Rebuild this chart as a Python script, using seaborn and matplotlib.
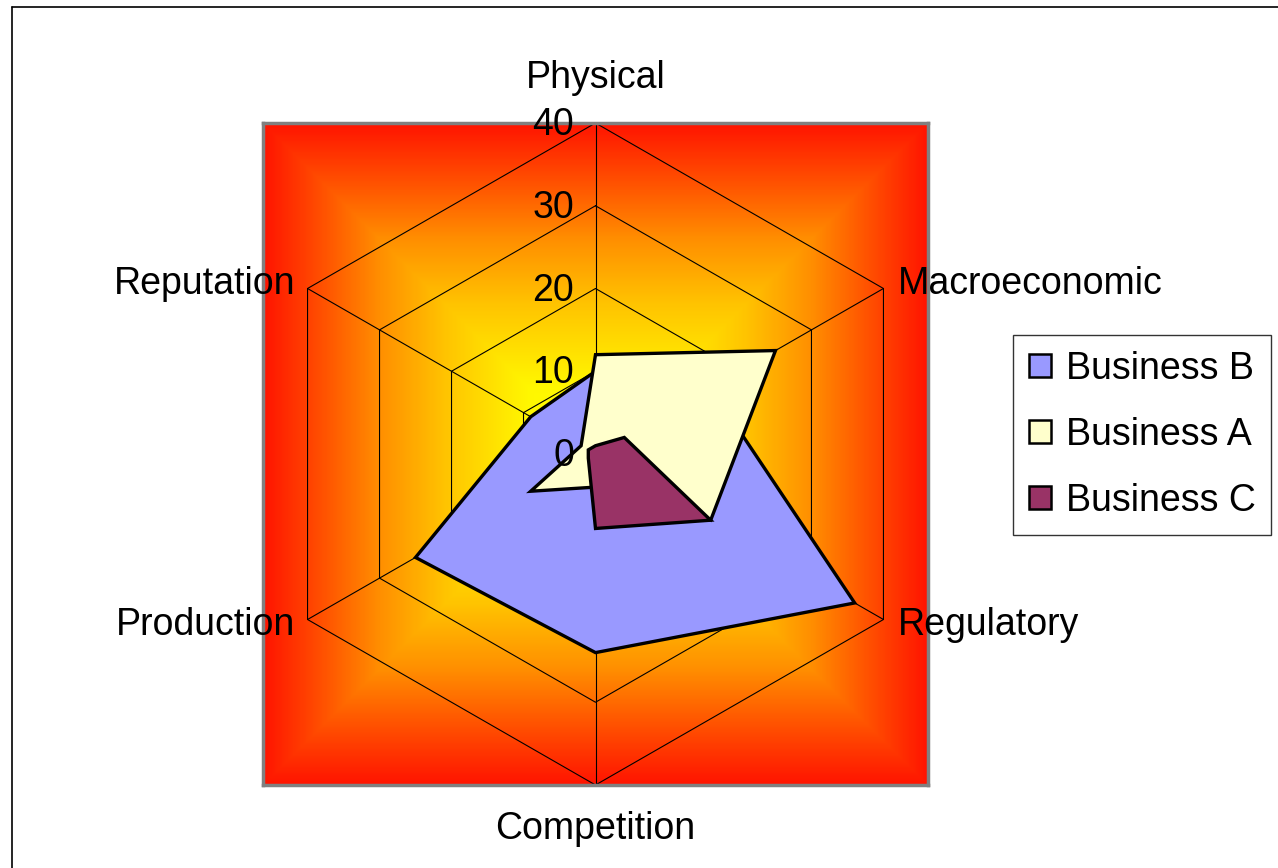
import numpy as np
import matplotlib
matplotlib.use("Agg")
import matplotlib.pyplot as plt
from matplotlib.colors import LinearSegmentedColormap
from matplotlib.patches import Patch
from matplotlib.lines import Line2D
import seaborn as sns

categories = ["Physical", "Macroeconomic", "Regulatory", "Competition", "Production", "Reputation"]
business_b = [10, 16, 36, 24, 25, 9]
business_a = [12, 25, 16, 4, 9, 2]
business_c = [1, 4, 16, 9, 1, 1]
series_names = ["Business B", "Business A", "Business C"]
series_values = [business_b, business_a, business_c]
series_colors = ["#9999FF", "#FFFFCC", "#993366"]
ticks = [0, 10, 20, 30, 40]
rmax = 40

sns.set_theme(style="white")
plt.rcParams['font.family'] = ['Liberation Sans', 'DejaVu Sans']
plt.rcParams['text.color'] = 'black'

FS = 27

fig = plt.figure(figsize=(12.78, 8.68), dpi=100)
ax = fig.add_axes([263/1278, 83/868, 665/1278, 662/868])
ax.set_xlim(-rmax, rmax)
ax.set_ylim(-rmax, rmax)
ax.set_aspect('auto')
ax.set_xticks([]); ax.set_yticks([])
for s in ax.spines.values():
    s.set_color('#808080'); s.set_linewidth(2.5)

# rectangular "from centre" gradient background
cmap = LinearSegmentedColormap.from_list("grad", [
    (0.0, (1.0, 1.0, 0.0)),
    (0.2, (1.0, 0.97, 0.0)),
    (0.45, (1.0, 0.77, 0.0)),
    (0.65, (1.0, 0.56, 0.0)),
    (0.85, (1.0, 0.28, 0.0)),
    (1.0, (1.0, 0.08, 0.0)),
])
g = np.linspace(-1, 1, 600)
gx, gy = np.meshgrid(g, g)
d = np.maximum(np.abs(gx), np.abs(gy))
ax.imshow(d, cmap=cmap, vmin=0, vmax=1, extent=(-rmax, rmax, -rmax, rmax),
          origin='lower', aspect='auto', zorder=0, interpolation='bilinear')

n = len(categories)
angles = np.pi/2 - np.arange(n) * 2*np.pi/n
cosA, sinA = np.cos(angles), np.sin(angles)

# hexagonal grid and spokes
for t in ticks[1:]:
    ax.plot(np.append(t*cosA, t*cosA[0]), np.append(t*sinA, t*sinA[0]),
            color='black', lw=0.8, zorder=1)
for i in range(n):
    ax.plot([0, rmax*cosA[i]], [0, rmax*sinA[i]], color='black', lw=0.8, zorder=1)

# series polygons
for name, vals, col in zip(series_names, series_values, series_colors):
    v = np.array(vals, dtype=float)
    ax.fill(v*cosA, v*sinA, facecolor=col, edgecolor='black', lw=2.4,
            joinstyle='miter', zorder=2)
ax.set_xlim(-rmax, rmax); ax.set_ylim(-rmax, rmax)

# radial tick labels
for t in ticks:
    ax.text(-2.6, t - 0.25, str(t), ha='right', va='center', fontsize=FS,
            color='black', zorder=4)

# category labels
for i, c in enumerate(categories):
    x, y = rmax*cosA[i], rmax*sinA[i]
    if abs(cosA[i]) < 1e-6:
        ax.text(0, y + (5.4 if y > 0 else -5.3), c, ha='center', va='center',
                fontsize=FS, color='black')
    elif cosA[i] > 0:
        ax.text(x + 1.7, y + (0.55 if y > 0 else -0.65), c, ha='left', va='center',
                fontsize=FS, color='black')
    else:
        ax.text(x - 1.5, y + (0.55 if y > 0 else -0.65), c, ha='right', va='center',
                fontsize=FS, color='black')

handles = [Patch(facecolor=col, edgecolor='black', lw=1.8) for col in series_colors]
leg = fig.legend(handles, series_names, loc='upper left',
                 bbox_to_anchor=(1013/1278, 1-335/868), fontsize=FS, frameon=True,
                 fancybox=False, edgecolor='black', handlelength=0.6, handleheight=0.6,
                 labelspacing=0.8, borderpad=0.42, handletextpad=0.38, borderaxespad=0)
for txt in leg.get_texts():
    txt.set_color('black')
leg.get_frame().set_linewidth(1.0)

# outer chart border (top and left visible)
fig.add_artist(Line2D([12/1278, 1.0], [1-7/868, 1-7/868], transform=fig.transFigure,
                      color='black', lw=1.2))
fig.add_artist(Line2D([12/1278, 12/1278], [1-7/868, 0.0], transform=fig.transFigure,
                      color='black', lw=1.2))

fig.savefig("out.png", dpi=100, facecolor='white')
